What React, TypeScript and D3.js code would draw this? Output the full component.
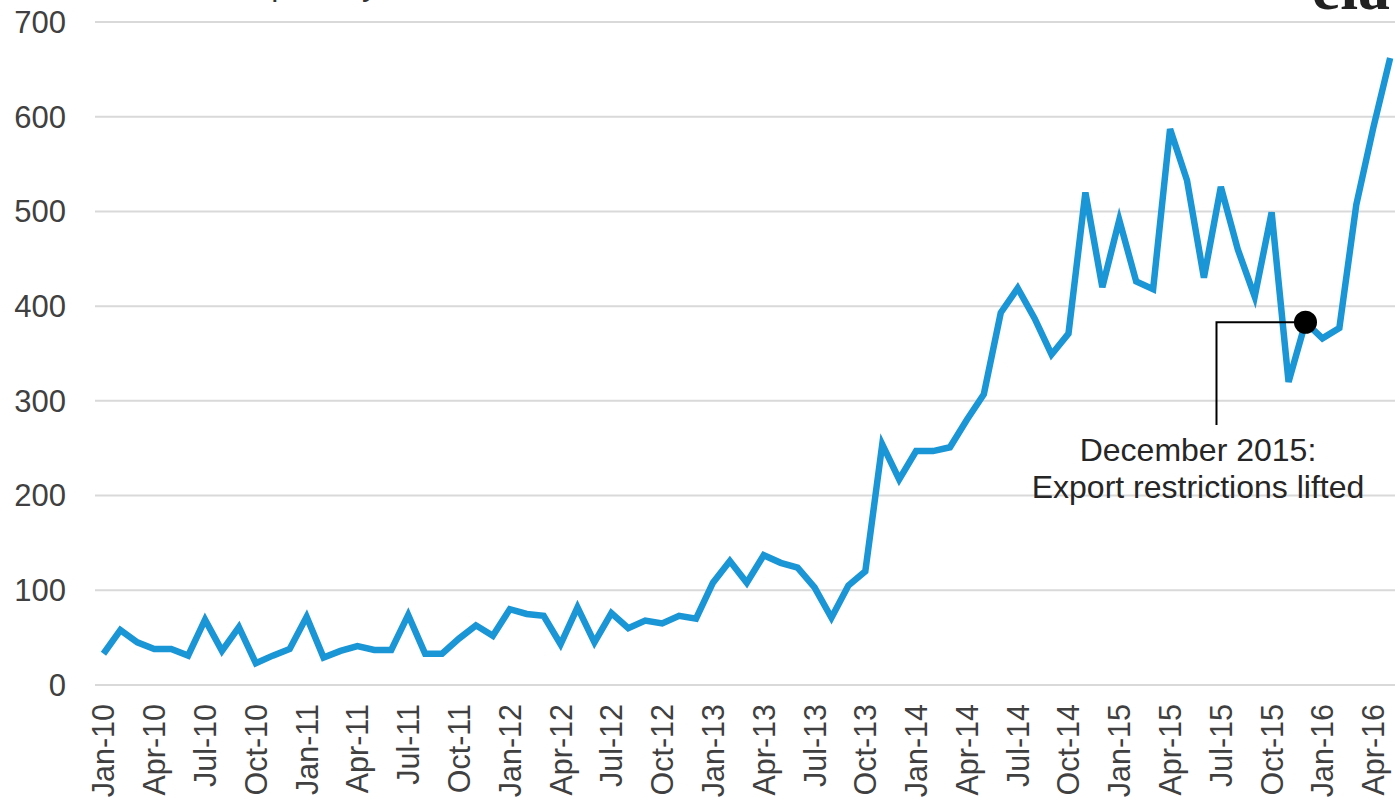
import React from "react";
import * as d3 from "d3";

const monthNames = ["Jan", "Feb", "Mar", "Apr", "May", "Jun", "Jul", "Aug", "Sep", "Oct", "Nov", "Dec"];
const years = ["10", "11", "12", "13", "14", "15", "16"];
const months: string[] = [];
years.forEach((y) => monthNames.forEach((m) => months.push(`${m}-${y}`)));
const categories = months.slice(0, 77); // Jan-10 .. May-16

const values2010 = [33, 58, 45, 38, 38, 31, 69, 36, 61, 23, 31, 38];
const values2011 = [72, 29, 36, 41, 37, 37, 74, 33, 33, 49, 63, 52];
const values2012 = [80, 75, 73, 43, 82, 45, 76, 60, 68, 65, 73, 70];
const values2013 = [108, 131, 108, 137, 129, 124, 103, 71, 105, 120, 254, 217];
const values2014 = [247, 247, 251, 280, 307, 393, 419, 387, 349, 371, 520, 420];
const values2015 = [491, 426, 418, 587, 533, 430, 526, 460, 410, 499, 320, 383];
const values2016 = [366, 377, 507, 588, 662];
const exportsValues = [
  ...values2010, ...values2011, ...values2012, ...values2013,
  ...values2014, ...values2015, ...values2016,
];

const yTicks = [0, 100, 200, 300, 400, 500, 600, 700];
const xTickLabels = categories.filter((_, i) => i % 3 === 0);
const annotationMonth = "Dec-15";
const annotationLines = ["December 2015:", "Export restrictions lifted"];
const unitsLabel = "thousand barrels per day";

const W = 1395;
const H = 806;
const plotLeft = 95;
const plotRight = 95 + 77 * 16.93;
const plotTop = 22;
const plotBottom = 685;
const FONT = "'Liberation Sans', Arial, sans-serif";
const LINE_COLOR = "#1a95d5";

export default function App() {
  const x = d3.scaleBand<string>().domain(categories).range([plotLeft, plotRight]).padding(0);
  const cx = (c: string) => (x(c) as number) + x.bandwidth() / 2;
  const y = d3.scaleLinear().domain([0, 700]).range([plotBottom, plotTop]);

  const line = d3
    .line<number>()
    .x((_, i) => cx(categories[i]))
    .y((d) => y(d))
    .curve(d3.curveLinear);

  const ai = categories.indexOf(annotationMonth);
  const ax = cx(annotationMonth);
  const ay = y(exportsValues[ai]);
  const leaderX = ax - 89;
  const leaderBottom = 425;
  const textCx = 1198;

  return (
    <svg
      width={W}
      height={H}
      style={{ position: "absolute", left: 0, top: 0, display: "block", background: "#fff" }}
    >
      {/* clipped title / logo remnants at the top */}
      <text x={378} y={-5} fontFamily={FONT} fontSize={32} textAnchor="end" fill="#333">
        {unitsLabel}
      </text>
      <text
        x={1390}
        y={9}
        fontFamily="'Liberation Serif', 'DejaVu Serif', serif"
        fontWeight="bold"
        fontSize={64}
        textAnchor="end"
        fill="#222"
      >
        eia
      </text>

      {/* gridlines */}
      {yTicks.map((t) => (
        <line key={t} x1={plotLeft} x2={W} y1={y(t)} y2={y(t)} stroke="#d9d9d9" strokeWidth={2} />
      ))}

      {/* y-axis labels */}
      {yTicks.map((t) => (
        <text
          key={"yl" + t}
          x={66}
          y={y(t)}
          dy="0.35em"
          textAnchor="end"
          fontFamily={FONT}
          fontSize={31}
          fill="#404040"
        >
          {t}
        </text>
      ))}

      {/* x-axis labels */}
      {xTickLabels.map((c) => (
        <text
          key={c}
          transform={`translate(${cx(c)},${plotBottom + 19}) rotate(-90)`}
          dy="0.36em"
          textAnchor="end"
          fontFamily={FONT}
          fontSize={30.5}
          fill="#404040"
        >
          {c}
        </text>
      ))}

      {/* data line */}
      <path
        d={line(exportsValues) || ""}
        fill="none"
        stroke={LINE_COLOR}
        strokeWidth={6.5}
        strokeLinejoin="miter"
        strokeLinecap="butt"
      />

      {/* annotation */}
      <polyline
        points={`${ax},${ay} ${leaderX},${ay} ${leaderX},${leaderBottom}`}
        fill="none"
        stroke="#000"
        strokeWidth={2}
      />
      <circle cx={ax} cy={ay} r={11.5} fill="#000" />
      {annotationLines.map((l, i) => (
        <text
          key={l}
          x={textCx}
          y={461 + i * 37}
          textAnchor="middle"
          fontFamily={FONT}
          fontSize={32}
          fill="#262626"
        >
          {l}
        </text>
      ))}
    </svg>
  );
}
